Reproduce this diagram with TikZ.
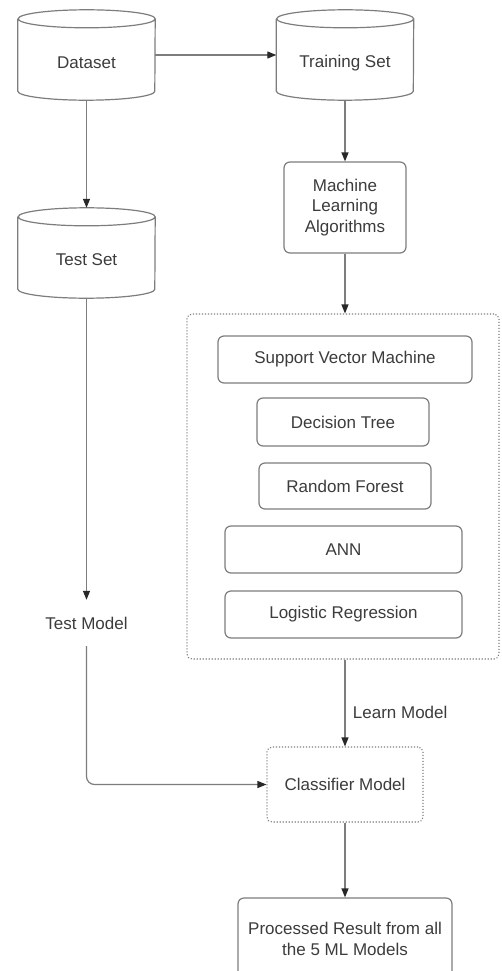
\documentclass[tikz,border=0pt]{standalone}
\usepackage{fontspec}
\setmainfont{Liberation Sans}
\usetikzlibrary{arrows.meta,calc}
\definecolor{txtc}{RGB}{60,60,60}
\definecolor{linec}{RGB}{125,125,125}
\definecolor{tipc}{RGB}{40,40,40}
\newcommand\drawcyl[1]{\draw[edgeline] ($(#1.north west)+(0,-9)$) -- ($(#1.south west)+(0,9)$) arc[start angle=180,end angle=360,x radius=68.5pt,y radius=9pt] -- ($(#1.north east)+(0,-9)$) arc[start angle=0,end angle=180,x radius=68.5pt,y radius=9pt] arc[start angle=180,end angle=360,x radius=68.5pt,y radius=9pt];}
\begin{document}
\begin{tikzpicture}[x=1pt,y=1pt, font=\fontsize{17}{20.5}\selectfont, text=txtc,
 edgeline/.style={draw=linec, line width=1.2pt},
 rbox/.style={edgeline, rounded corners=6pt, inner sep=0pt, align=center},
 dotbox/.style={draw=linec, line width=1.1pt, dash pattern=on 1.1pt off 1.9pt, rounded corners=5pt, inner sep=0pt, align=center},
 cyl/.style={inner sep=0pt, minimum width=137pt, minimum height=90pt},
 conn/.style={edgeline, -{Triangle[length=9pt,width=7pt,color=tipc]}},
 txt/.style={text=txtc}]
\useasboundingbox (0,0) rectangle (501,-971);
\fill[white] (0,0) rectangle (501,-971);

% cylinders
\node[cyl, label={[txt,yshift=-8pt]center:Dataset}] (dataset) at (86.5,-55) {};
\node[cyl, label={[txt,yshift=-8pt]center:Training Set}] (training) at (345,-55) {};
\node[cyl, label={[txt,yshift=-7pt]center:Test Set}] (testset) at (86.5,-253) {};
\drawcyl{dataset}
\drawcyl{training}
\drawcyl{testset}

% boxes
\node[rbox, minimum width=122pt, minimum height=91pt] (mla) at (345,-207.5) {Machine\\Learning\\Algorithms};
\node[dotbox, minimum width=312pt, minimum height=345pt] (big) at (343,-486.5) {};
\node[rbox, minimum width=254pt, minimum height=47pt] (svm) at (345,-359.5) {Support Vector Machine};
\node[rbox, minimum width=172pt, minimum height=48pt] (dt) at (343,-422) {Decision Tree};
\node[rbox, minimum width=172pt, minimum height=46pt] (rf) at (345,-486) {Random Forest};
\node[rbox, minimum width=237pt, minimum height=47pt] (ann) at (343.5,-549.5) {ANN};
\node[rbox, minimum width=237pt, minimum height=47pt] (lr) at (343.5,-614.5) {Logistic Regression};
\node[txt, inner sep=0pt, minimum width=90pt, minimum height=46pt] (testmodel) at (86.5,-623) {Test Model};
\node[dotbox, minimum width=156pt, minimum height=75pt] (classifier) at (345,-784.5) {Classifier Model};
\node[rbox, minimum width=214pt, minimum height=82pt] (processed) at (345,-939) {Processed Result from all\\the 5 ML Models};

% connectors
\draw[conn] (dataset.east) -- (training.west);
\draw[conn] (dataset.south) -- (testset.north);
\draw[conn] (training.south) -- (mla.north);
\draw[conn] (mla.south) -- (mla.south |- big.north);
\draw[conn] (testset.south) -- (testmodel.north);
\draw[conn, rounded corners=8pt] (testmodel.south) |- (classifier.west);
\draw[conn] (classifier.north |- big.south) -- node[txt, right=4pt, pos=0.61] (learnlbl) {Learn Model} (classifier.north);
\draw[conn] (classifier.south) -- (processed.north);
\end{tikzpicture}
\end{document}
